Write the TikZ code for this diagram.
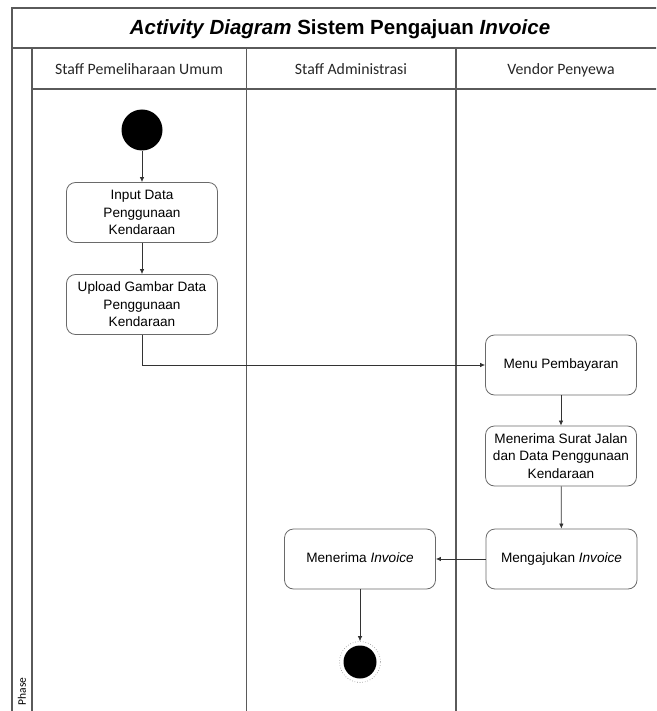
\documentclass[tikz,border=0pt]{standalone}
\usepackage{fontspec}
\setmainfont{Liberation Sans}
\newfontfamily\lanefont{Carlito}
\usetikzlibrary{arrows.meta}

\definecolor{framegray}{HTML}{5A5A5A}
\definecolor{boxgray}{HTML}{6A6A6A}
\definecolor{flowgray}{HTML}{333333}

\begin{document}
\begin{tikzpicture}[x=1pt,y=-1pt,
  frameline/.style={draw=framegray, line width=1.3pt},
  activity/.style={draw=boxgray, line width=0.8pt, rounded corners=9pt,
    minimum width=151pt, minimum height=60pt, align=center, inner sep=2pt,
    font=\fontsize{13.6}{17.5}\selectfont},
  lanehead/.style={font=\lanefont\fontsize{15.8}{18}\selectfont, text=black!85, anchor=base},
  flow/.style={draw=flowgray, line width=0.7pt, -{Latex[length=5pt,width=4.5pt]}}]

\useasboundingbox (0,0) rectangle (656,711);

% swimlane frame (runs past the page edges on the right and bottom)
\begin{scope}
  \clip (0,0) rectangle (656,711);
  \path[frameline] (12,720) -- (12,8) -- (680,8);
  \path[frameline] (12,48) -- (680,48);
  \path[frameline] (32,48) -- (32,720);
  \path[frameline] (32,89) -- (680,89);
  \path[frameline] (246.5,48) -- (246.5,720);
  \path[frameline] (456,48) -- (456,720);
\end{scope}

% title and lane headers
\node (title) at (340,29) {\fontsize{20.5}{22}\selectfont\bfseries\itshape Activity Diagram\upshape{} Sistem Pengajuan \itshape Invoice};
\node[lanehead] (h1) at (139,74.5) {Staff Pemeliharaan Umum};
\node[lanehead] (h2) at (351,74.5) {Staff Administrasi};
\node[lanehead] (h3) at (561,74.5) {Vendor Penyewa};
\node[rotate=90, anchor=west, font=\lanefont\fontsize{11.5}{13}\selectfont] (phase) at (22,709) {Phase};

% activities
\node[circle, fill=black, minimum size=41pt, inner sep=0pt] (start) at (142,130) {};
\node[activity] (input) at (142,212.5) {Input Data\\Penggunaan\\Kendaraan};
\node[activity] (upload) at (142,304.5) {Upload Gambar Data\\Penggunaan\\Kendaraan};
\node[activity] (menu) at (561,365) {\strut Menu Pembayaran};
\node[activity] (surat) at (561,456) {Menerima Surat Jalan\\dan Data Penggunaan\\Kendaraan};
\node[activity] (ajukan) at (561.5,559) {\strut Mengajukan \textit{Invoice}};
\node[activity] (terima) at (360,559) {\strut Menerima \textit{Invoice}};
\node[circle, draw=gray, dotted, line width=0.6pt, minimum size=41pt, inner sep=0pt] (stopring) at (360,662) {};
\node[circle, fill=black, minimum size=33pt, inner sep=0pt] (stop) at (stopring.center) {};

% control flow
\draw[flow] (start) -- (input);
\draw[flow] (input) -- (upload);
\draw[flow] (upload.south) |- (menu.west);
\draw[flow] (menu) -- (surat);
\draw[flow] (surat) -- (ajukan);
\draw[flow] (ajukan) -- (terima);
\draw[flow] (terima) -- (stopring);

\end{tikzpicture}
\end{document}
